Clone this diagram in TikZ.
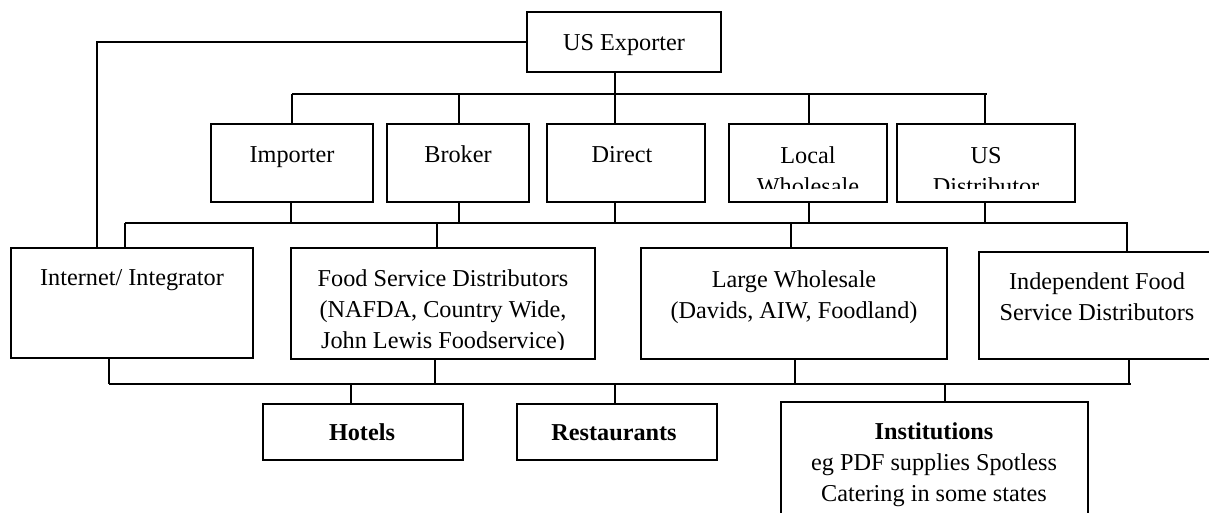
\documentclass[tikz,border=0pt]{standalone}
\usepackage{fontspec}
\setmainfont{Liberation Serif}
\usepackage{tikz}
\usetikzlibrary{fit}
\usetikzlibrary{positioning, calc}

\tikzset{
  box/.style={draw, line width=1.1pt, inner sep=0pt},
  lbl/.style={font=\fontsize{13.8}{17.6}\selectfont, align=center, inner sep=0pt},
  one/.style={text height=9.5pt, text depth=2.8pt},
  wire/.style={line width=1.1pt}
}

\begin{document}
\begin{tikzpicture}[x=0.02cm, y=-0.02cm]
                  \useasboundingbox (0,0) rectangle (1209,512);
                  \clip (0,0) rectangle (1209,512);

                  % Exporter
                  \node[box, fit={(527,12) (721,72)}] (exporter) {};
                  \node[lbl, one] (lblexporter) at (624,45) {US Exporter};

                  % Channels
                  \node[box, fit={(211,124) (373,202)}] (importer) {};
                  \node[box, fit={(387,124) (529,202)}] (broker) {};
                  \node[box, fit={(547,124) (705,202)}] (direct) {};
                  \node[box, fit={(729,124) (887,202)}] (localws) {};
                  \node[box, fit={(897,124) (1075,202)}] (usdist) {};
                  \node[lbl, one] (lblimporter) at (292,157) {Importer};
                  \node[lbl, one] (lblbroker) at (458,157) {Broker};
                  \node[lbl, one] (lbldirect) at (622,157) {Direct};
                  \begin{scope}
                  \clip (729,124) rectangle (1075,188);
                  \node[lbl] (lbllocalws) at (808,171) {Local\\Wholesale};
                  \node[lbl] (lblusdist) at (986,171) {US\\Distributor};
                  \end{scope}

                  % Distributors
                  \node[box, fit={(11,248) (253,358)}] (internet) {};
                  \node[box, fit={(291,248) (595,359)}] (foodserv) {};
                  \node[box, fit={(641,248) (947,359)}] (largews) {};
                  \node[box, fit={(979,252) (1215,359)}] (indep) {};
                  \node[lbl, one] (lblinternet) at (132,280) {Internet/ Integrator};
                  \begin{scope}
                  \clip (291,248) rectangle (595,349);
                  \node[lbl] (lblfoodserv) at (443,312) {Food Service Distributors\\(NAFDA, Country Wide,\\John Lewis Foodservice)};
                  \end{scope}
                  \node[lbl] (lbllargews) at (794,297) {Large Wholesale\\(Davids, AIW, Foodland)};
                  \node[lbl] (lblindep) at (1097,297) {Independent Food\\Service Distributors};

                  % Outlets
                  \node[box, fit={(263,404) (463,460)}] (hotels) {};
                  \node[box, fit={(517,404) (717,460)}] (restaurants) {};
                  \node[box, fit={(781,402) (1088,530)}] (institutions) {};
                  \node[lbl, one, font=\fontsize{13.8}{17.6}\selectfont\bfseries] (lblhotels) at (362,435) {Hotels};
                  \node[lbl, one, font=\fontsize{13.8}{17.6}\selectfont\bfseries] (lblrestaurants) at (614,435) {Restaurants};
                  \node[lbl] (lblinstitutions) at (934,465) {\textbf{Institutions}\\eg PDF supplies Spotless\\Catering in some states};

                  % Buses
                  \coordinate (bus1w) at (292,94);
                  \coordinate (bus1e) at (987,94);
                  \coordinate (bus2w) at (125,223);
                  \coordinate (bus2e) at (1127,223);
                  \coordinate (bus3w) at (109,384);
                  \coordinate (bus3e) at (1131,384);
                  \draw[wire] (bus1w) -- (bus1e);
                  \draw[wire] (bus2w) -- (bus2e);
                  \draw[wire] (bus3w) -- (bus3e);

                  % Links
                  \draw[wire] (exporter.west) -| ([xshift=-35*0.02cm]internet.north);
                  \draw[wire] ([xshift=-9*0.02cm]exporter.south) |- (bus1w);

                  \foreach \n/\dx in {importer/0, broker/1, direct/-11, localws/1, usdist/-1}
                  \draw[wire] ([xshift=\dx*0.02cm]\n.north) |- (bus1w);

                  \foreach \n/\dx in {importer/-1, broker/1, direct/-11, localws/1, usdist/-1}
                  \draw[wire] ([xshift=\dx*0.02cm]\n.south) |- (bus2w);

                  \foreach \n/\dx in {internet/-7, foodserv/-6, largews/-3, indep/30}
                  \draw[wire] ([xshift=\dx*0.02cm]\n.north) |- (bus2w);

                  \foreach \n/\dx in {internet/-23, foodserv/-8, largews/1, indep/32}
                  \draw[wire] ([xshift=\dx*0.02cm]\n.south) |- (bus3w);

                  \foreach \n/\dx in {hotels/-12, restaurants/-2, institutions/10.5}
                  \draw[wire] ([xshift=\dx*0.02cm]\n.north) |- (bus3w);

\end{tikzpicture}
\end{document}
